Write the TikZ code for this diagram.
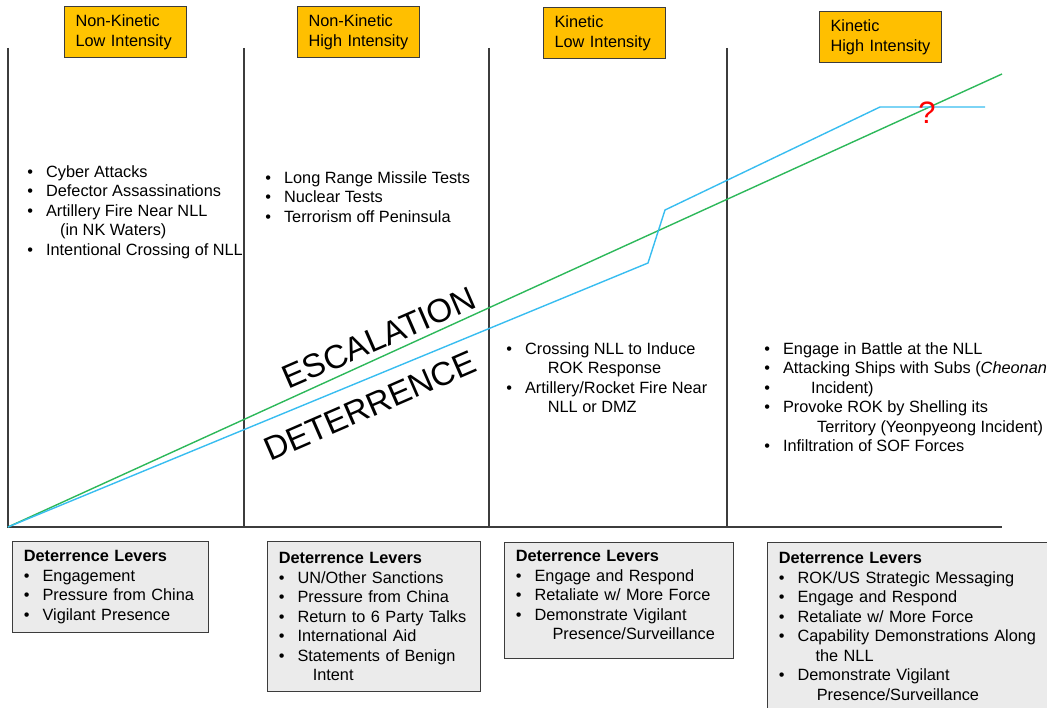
\documentclass[tikz,border=0pt]{standalone}
\usepackage{fontspec}
\setmainfont{Liberation Sans}
\usepackage{tikz}
\usetikzlibrary{positioning}
\definecolor{hdrfill}{HTML}{FFC400}
\definecolor{boxfill}{HTML}{EBEBEB}
\definecolor{escgreen}{HTML}{2DB85A}
\definecolor{detblue}{HTML}{38BDF0}
\definecolor{axisgray}{HTML}{3C3C3C}
\newcommand{\bodyfont}{\fontsize{11.6}{13.9}\selectfont}
\newcommand{\itm}{\makebox[0.47cm][l]{\textbullet}}
\newcommand{\cont}[1]{\hspace*{\dimexpr0.47cm+#1\relax}}
\tikzset{
  levelbox/.style={draw=axisgray, fill=hdrfill, line width=0.8pt, anchor=north west,
    align=left, text width=2.5cm, inner xsep=0.275cm, minimum height=1.275cm, font=\bodyfont},
  leverbox/.style={draw=axisgray, fill=boxfill, line width=0.8pt, anchor=north west,
    align=left, inner xsep=0.28cm, font=\bodyfont},
  itemlist/.style={anchor=north west, align=left, inner sep=0pt, font=\bodyfont},
  axis/.style={axisgray, line width=1.3pt},
  escline/.style={escgreen, line width=1pt},
  detline/.style={detblue, line width=1pt},
  bigword/.style={rotate=23.5, font=\fontsize{23.5}{26}\selectfont},
}

\begin{document}
\begin{tikzpicture}[x=0.025cm, y=-0.025cm]
      \useasboundingbox (0,0) rectangle (1047,708);
      \coordinate (O) at (8,527);
      \coordinate (E) at (1002,527);
      \coordinate (T1) at (8,48);
      \coordinate (T2) at (244,48);
      \coordinate (B2) at (244,527);
      \coordinate (T3) at (489,48);
      \coordinate (B3) at (489,527);
      \coordinate (T4) at (727,48);
      \coordinate (B4) at (727,527);
      \draw[axis] (T1) -- (O) -- (E);
      \draw[axis] (T2) -- (B2);
      \draw[axis] (T3) -- (B3);
      \draw[axis] (T4) -- (B4);

      \coordinate (G) at (1002,74);
      \coordinate (D1) at (648,263);
      \coordinate (D2) at (665,210);
      \coordinate (D3) at (880,107);
      \coordinate (D4) at (985,107);
      \draw[escline] (O) -- (G);
      \draw[detline] (O) -- (D1) -- (D2) -- (D3) -- (D4);

      \node[levelbox] (NKL) at (64,6) {Non-Kinetic\\Low Intensity};
      \node[levelbox, fill=hdrfill!92!orange] (NKH) at (297,6) {Non-Kinetic\\High Intensity};
      \node[levelbox, fill=hdrfill!92!orange] (KL) at (543,7) {Kinetic\\Low Intensity};
      \node[levelbox, fill=hdrfill!92!orange] (KH) at (819,11) {Kinetic\\High Intensity};

      \node[itemlist] (P1) at (27,165) {\itm Cyber Attacks\\
        \itm Defector Assassinations\\
        \itm Artillery Fire Near NLL\\
        \cont{0.35cm}(in NK Waters)\\
        \itm Intentional Crossing of NLL};
      \node[itemlist] (P2) at (265,171) {\itm Long Range Missile Tests\\
        \itm Nuclear Tests\\
        \itm Terrorism off Peninsula};
      \node[itemlist] (P3) at (506,342) {\itm Crossing NLL to Induce\\
        \cont{0.57cm}ROK Response\\
        \itm Artillery/Rocket Fire Near\\
        \cont{0.57cm}NLL or DMZ};
      \node[itemlist] (P4) at (764,342) {\itm Engage in Battle at the NLL\\
        \itm Attacking Ships with Subs (\textit{Cheonan}\\
        \itm\hspace*{0.7cm}Incident)\\
        \itm Provoke ROK by Shelling its\\
        \cont{0.85cm}Territory (Yeonpyeong Incident)\\
        \itm Infiltration of SOF Forces};

      \node[bigword] (esc) at (379,338) {ESCALATION};
      \node[bigword] (det) at (370,406) {DETERRENCE};
      \node[text=red, font=\fontsize{22}{24}\selectfont] (q) at (927,113) {?};

      \node[leverbox, text width=4.34cm, minimum height=2.275cm] (L1) at (12,541)
        {\textbf{Deterrence Levers}\\
        \itm Engagement\\
        \itm Pressure from China\\
        \itm Vigilant Presence};
      \node[leverbox, text width=4.765cm, minimum height=3.75cm] (L2) at (267,541)
        {\textbf{Deterrence Levers}\\
        \itm UN/Other Sanctions\\
        \itm Pressure from China\\
        \itm Return to 6 Party Talks\\
        \itm International Aid\\
        \itm Statements of Benign\\
        \cont{0.38cm}Intent};
      \node[leverbox, text width=5.165cm, minimum height=2.9cm] (L3) at (504,542)
        {\textbf{Deterrence Levers}\\
        \itm Engage and Respond\\
        \itm Retaliate w/ More Force\\
        \itm Demonstrate Vigilant\\
        \cont{0.45cm}Presence/Surveillance\\[-6pt]\mbox{}};
      \node[leverbox, text width=6.6cm, minimum height=4.2cm] (L4) at (767,542)
        {\textbf{Deterrence Levers}\\
        \itm ROK/US Strategic Messaging\\
        \itm Engage and Respond\\
        \itm Retaliate w/ More Force\\
        \itm Capability Demonstrations Along\\
        \cont{0.45cm}the NLL\\
        \itm Demonstrate Vigilant\\
        \cont{0.48cm}Presence/Surveillance};
    \end{tikzpicture}
\end{document}
